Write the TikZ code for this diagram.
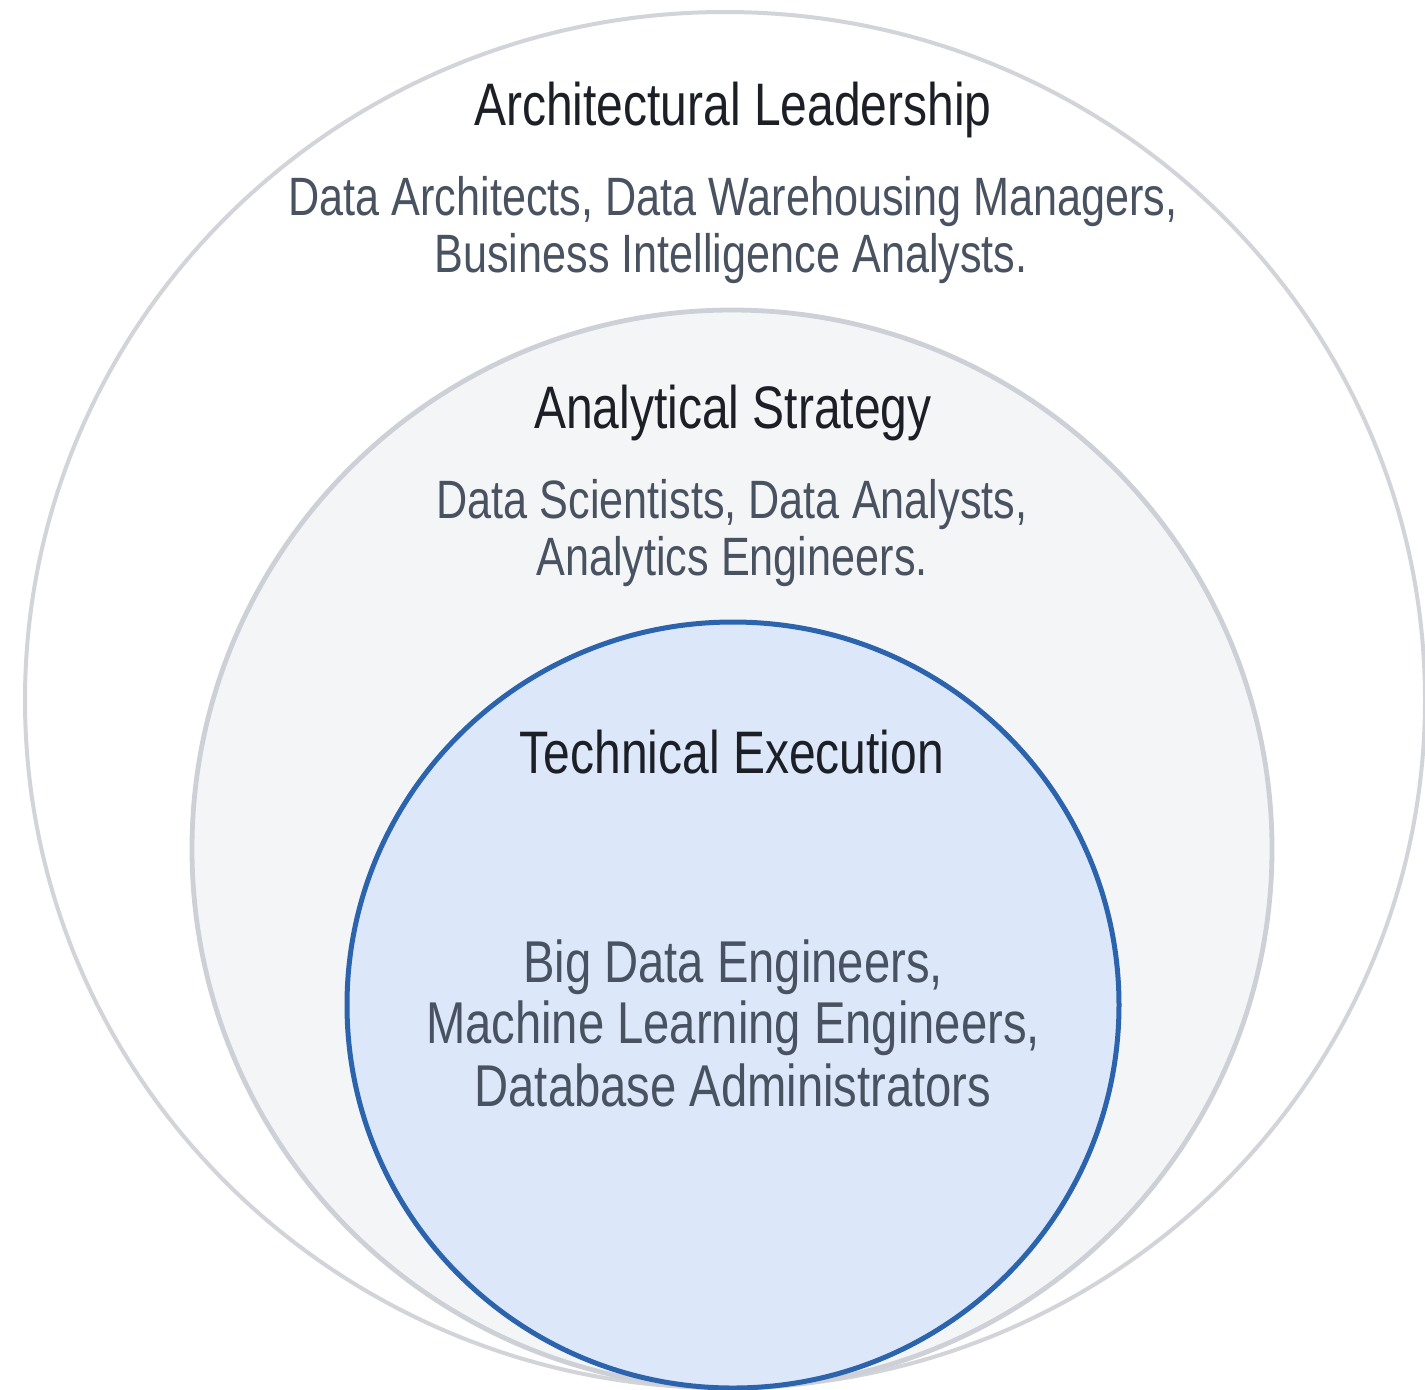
\documentclass[tikz,border=0pt]{standalone}
\usepackage{fontspec}
\setmainfont[FakeStretch=0.8]{Liberation Sans}
\definecolor{ringgray}{HTML}{D2D4D9}
\definecolor{midgray}{HTML}{CDD0D6}
\definecolor{midfill}{HTML}{F4F5F7}
\definecolor{innerfill}{HTML}{DCE8F9}
\definecolor{innerline}{HTML}{2B64AD}
\definecolor{titlecol}{HTML}{1C2026}
\definecolor{bodycol}{HTML}{495260}
\tikzset{
  outerring/.style={draw=ringgray, line width=2pt, fill=white},
  midring/.style={draw=midgray, line width=2.4pt, fill=midfill},
  innerring/.style={draw=innerline, line width=2.5pt, fill=innerfill},
  titletext/.style={anchor=base, inner sep=0pt, text=titlecol, font=\fontsize{30}{32}\selectfont},
  bodytext/.style={anchor=base, inner sep=0pt, text=bodycol, font=\fontsize{27}{30}\selectfont},
  corebody/.style={anchor=base, inner sep=0pt, text=bodycol, font=\fontsize{29.5}{32}\selectfont}
}
\begin{document}
\begin{tikzpicture}[x=0.5pt,y=-0.5pt]
\useasboundingbox (0,0) rectangle (1425,1389);
\fill[white] (0,0) rectangle (1425,1389);
\draw[outerring] (725,700) ellipse [x radius=350pt, y radius=344pt];
\draw[midring] (732,849) ellipse [x radius=270pt, y radius=269.5pt];
\draw[innerring] (733,1005) ellipse [x radius=193pt, y radius=191.5pt];

\node[titletext] (t1) at (733,125) {Architectural Leadership};
\node[bodytext] (b1a) at (733,215) {Data Architects, Data Warehousing Managers,};
\node[bodytext] (b1b) at (731,272) {Business Intelligence Analysts.};

\node[titletext] (t2) at (733,428) {Analytical Strategy};
\node[bodytext] (b2a) at (732,518) {Data Scientists, Data Analysts,};
\node[bodytext] (b2b) at (732,575) {Analytics Engineers.};

\node[titletext] (t3) at (732,773) {Technical Execution};
\node[corebody] (b3a) at (733,982) {Big Data Engineers,};
\node[corebody] (b3b) at (733,1043) {Machine Learning Engineers,};
\node[corebody] (b3c) at (733,1106) {Database Administrators};
\end{tikzpicture}
\end{document}
